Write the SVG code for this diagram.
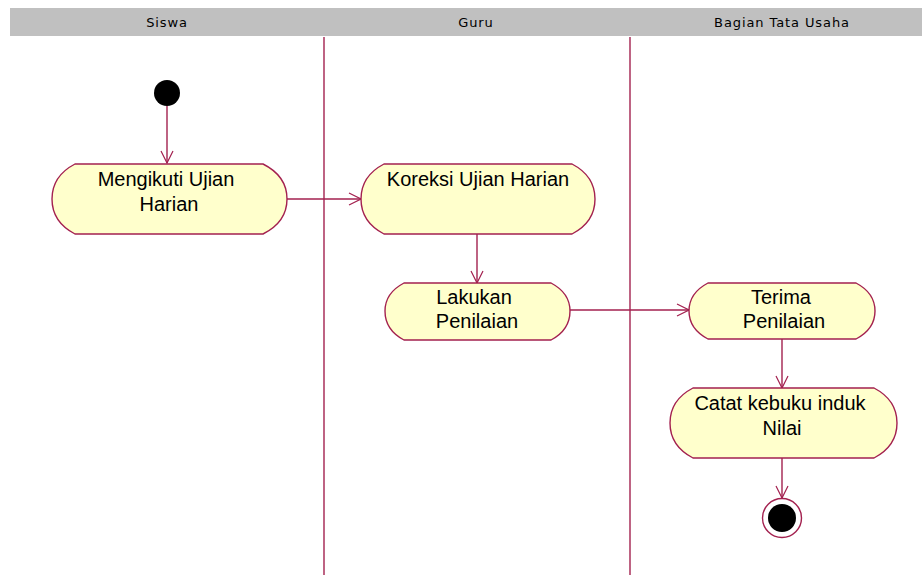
<svg xmlns="http://www.w3.org/2000/svg" width="922" height="575" viewBox="0 0 922 575">
  <defs>
    <marker id="open" viewBox="0 0 14 14" refX="13" refY="7" markerWidth="14" markerHeight="14" markerUnits="userSpaceOnUse" orient="auto">
      <path d="M1,1 L13,7 L1,13" fill="none" stroke="#A3214F" stroke-width="1.2"/>
    </marker>
  </defs>
  <style>
    .lane { fill: #C0C0C0; }
    .lanetxt { font-family: "DejaVu Sans", "Liberation Sans", sans-serif; font-size: 13px; letter-spacing: 0.9px; fill: #000; text-anchor: middle; }
    .div { stroke: #A3214F; stroke-width: 1.4; }
    .act { fill: #FFFFCC; stroke: #A3214F; stroke-width: 1.4; }
    .txt { font-family: "Liberation Sans", Arial, sans-serif; font-size: 20px; fill: #000; text-anchor: middle; }
    .flow { stroke: #A3214F; stroke-width: 1.4; fill: none; marker-end: url(#open); }
  </style>
  <rect width="922" height="575" fill="#FFFFFF"/>

  <!-- swimlane header -->
  <g id="lanes">
    <rect class="lane" x="10" y="8" width="912" height="28"/>
    <text class="lanetxt" x="167" y="27">Siswa</text>
    <text class="lanetxt" x="476" y="27">Guru</text>
    <text class="lanetxt" x="782" y="27">Bagian Tata Usaha</text>
    <line class="div" x1="324" y1="37" x2="324" y2="575"/>
    <line class="div" x1="630" y1="37" x2="630" y2="575"/>
  </g>

  <!-- flows -->
  <g id="connectors">
    <line class="flow" x1="167" y1="106" x2="167" y2="163"/>
    <line class="flow" x1="287" y1="199" x2="361" y2="199"/>
    <line class="flow" x1="477" y1="234" x2="477" y2="283"/>
    <line class="flow" x1="570" y1="310" x2="689" y2="310"/>
    <line class="flow" x1="782" y1="339" x2="782" y2="388"/>
    <line class="flow" x1="782" y1="458" x2="782" y2="498"/>
  </g>

  <g id="start">
    <circle cx="167" cy="93" r="13" fill="#000"/>
  </g>

  <g id="mengikuti">
    <path class="act" d="M75,164 H263 Q287,176 287,199 Q287,222 263,234 H75 Q52,222 52,199 Q52,176 75,164 Z"/>
    <text class="txt" x="166" y="186">Mengikuti Ujian</text>
    <text class="txt" x="169" y="211">Harian</text>
  </g>

  <g id="koreksi">
    <path class="act" d="M384,164 H572 Q595,176 595,199 Q595,222 572,234 H384 Q361,222 361,199 Q361,176 384,164 Z"/>
    <text class="txt" x="478" y="186">Koreksi Ujian Harian</text>
  </g>

  <g id="lakukan">
    <path class="act" d="M404,283 H551 Q570,293 570,311 Q570,330 551,340 H404 Q385,330 385,311 Q385,293 404,283 Z"/>
    <text class="txt" x="474" y="304">Lakukan</text>
    <text class="txt" x="477" y="328">Penilaian</text>
  </g>

  <g id="terima">
    <path class="act" d="M708,283 H856 Q875,293 875,311 Q875,329 856,339 H708 Q689,329 689,311 Q689,293 708,283 Z"/>
    <text class="txt" x="781" y="304">Terima</text>
    <text class="txt" x="784" y="328">Penilaian</text>
  </g>

  <g id="catat">
    <path class="act" d="M693,388 H874 Q897,400 897,423 Q897,446 874,458 H693 Q670,446 670,423 Q670,400 693,388 Z"/>
    <text class="txt" x="780" y="410">Catat kebuku induk</text>
    <text class="txt" x="782" y="435">Nilai</text>
  </g>

  <g id="end">
    <circle cx="782" cy="518" r="19.5" fill="#FFFFFF" stroke="#A3214F" stroke-width="1.4"/>
    <circle cx="782" cy="518" r="14" fill="#000"/>
  </g>
</svg>
